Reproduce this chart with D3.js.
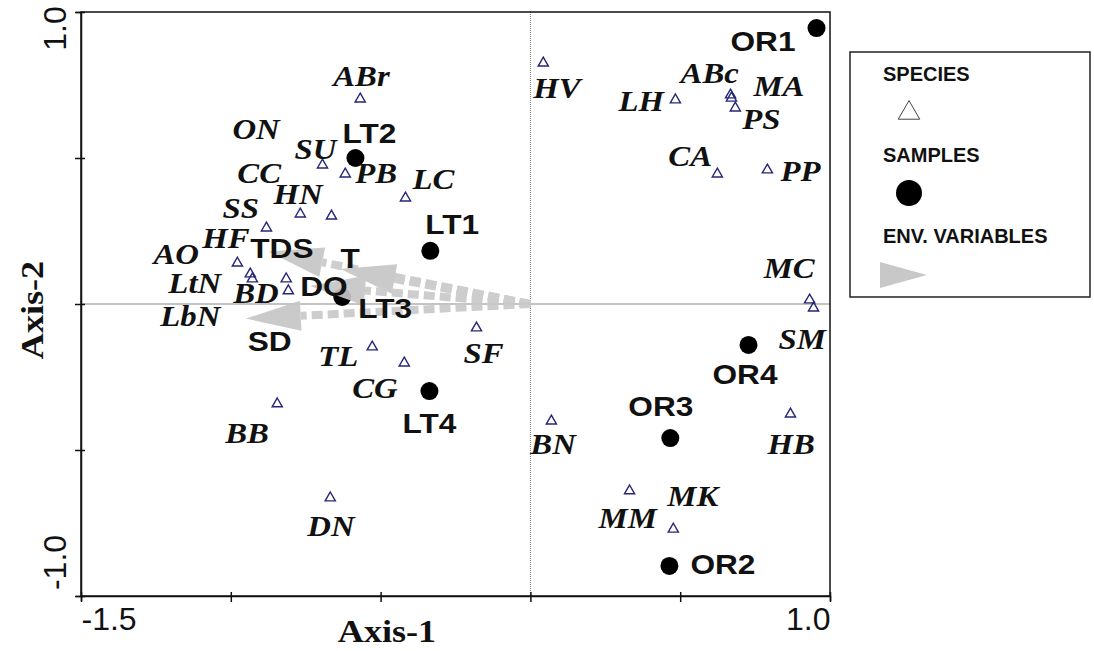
<!DOCTYPE html>
<html>
<head>
<meta charset="utf-8">
<script src="https://cdn.jsdelivr.net/npm/d3@7"></script>
<style>
  body { margin: 0; background: #fff; }
  .spLabel { font-family: "Liberation Serif", "Times New Roman", serif; font-style: italic; font-weight: bold; font-size: 29px; fill: #111; }
  .smLabel { font-family: "Liberation Sans", Arial, sans-serif; font-weight: bold; font-size: 28px; fill: #111; }
  .tickText { font-family: "Liberation Sans", Arial, sans-serif; font-size: 32px; fill: #111; }
  .axisTitle { font-family: "Liberation Serif", "Times New Roman", serif; font-weight: bold; font-size: 32px; fill: #111; }
  .legText { font-family: "Liberation Sans", Arial, sans-serif; font-weight: bold; font-size: 20px; fill: #111; }
</style>
</head>
<body>
<div class="chart"></div>
<script>
// Species scores
var speciesNames = ["ABr","ON","SU","PB","CC","HN","LC","SS","HF","AO","LtN","BD","LbN","TL","CG","SF","BB","DN",
                    "HV","LH","ABc","MA","PS","CA","PP","MC","SM","BN","HB","MM","MK"];
var speciesX = [-0.568,-0.584,-0.694,-0.618,-0.768,-0.664,-0.417,-0.881,-0.935,-0.978,-0.928,-0.815,-0.808,-0.528,-0.421,-0.180,-0.845,-0.668,
                0.043,0.484,0.668,0.671,0.684,0.624,0.791,0.932,0.945,0.070,0.868,0.331,0.477];
var speciesY = [0.702,0.497,0.476,0.445,0.308,0.301,0.363,0.260,0.103,0.140,0.086,0.086,0.045,-0.147,-0.202,-0.082,-0.342,-0.664,
                0.825,0.699,0.716,0.705,0.671,0.445,0.459,0.014,-0.014,-0.401,-0.377,-0.640,-0.771];

// Sample scores
var sampleNames = ["LT1","LT2","LT3","LT4","OR1","OR2","OR3","OR4"];
var sampleX = [-0.334,-0.584,-0.628,-0.337,0.955,0.464,0.467,0.728];
var sampleY = [0.182,0.500,0.024,-0.298,0.945,-0.897,-0.459,-0.140];

// Environmental variables (biplot arrows)
var envNames = ["TDS","T","DO","SD"];
var envX = [-0.875,-0.634,-0.735,-0.950];
var envY = [0.180,0.120,0.062,-0.050];

// Axis ticks
var xTicks = [-1.5,-1.0,-0.5,0,0.5,1.0];
var yTicks = [-1.0,-0.5,0,0.5,1.0];
var xTickLabels = {"-1.5": "-1.5", "1": "1.0"};
var yTickLabels = {"-1": "-1.0", "1": "1.0"};

// Label placement (pixel offsets from the mark)
var speciesLabelOffset = [[-27,-13],[-123,-20],[-28,-6],[10,9],[-63,-31],[-58,-12],[7,-9],[-44,-10],[-48,-26],[-84,1],[-84,14],[-53,24],[-128,35],[-54,19],[-52,35],[-13,35],[-52,39],[-23,38],
                          [-10,35],[-57,11],[-50,-12],[22,-2],[7,21],[-49,-8],[13,11],[-46,-22],[-35,41],[-21,33],[-23,40],[-31,37],[-6,-23]];
var sampleLabelOffset = [[-5,-17],[-13,-15],[16,21],[-27,42],[-86,23],[21,8],[-42,-22],[-36,39]];
var envLabelOffset = [[-18,7],[0,-1],[-10,10],[2,32]];
var textStretch = 1.13;

var svgWidth = 1094;
var svgHeight = 651;

var svg = d3.select(".chart")
  .append("svg")
  .attr("width", svgWidth)
  .attr("height", svgHeight);

// Scales
var xScale = d3.scaleLinear().domain([-1.5, 1.0]).range([81, 830]);
var yScale = d3.scaleLinear().domain([-1.0, 1.0]).range([596, 12]);

// Zero lines
svg.append("line")
  .attr("x1", xScale(-1.5)).attr("x2", xScale(1.0))
  .attr("y1", yScale(0)).attr("y2", yScale(0))
  .attr("stroke", "#8a8a8a").attr("stroke-width", 1.2);
svg.append("line")
  .attr("x1", xScale(0)).attr("x2", xScale(0))
  .attr("y1", yScale(1)).attr("y2", yScale(-1))
  .attr("stroke", "#777").attr("stroke-width", 1)
  .attr("stroke-dasharray", "1,1");

// Frame
svg.append("rect")
  .attr("x", xScale(-1.5)).attr("y", yScale(1))
  .attr("width", xScale(1.0) - xScale(-1.5))
  .attr("height", yScale(-1) - yScale(1))
  .attr("fill", "none").attr("stroke", "#111").attr("stroke-width", 1.5);

// Axes
var xAxis = d3.axisBottom(xScale).tickValues(xTicks).tickSize(5).tickFormat(d => xTickLabels[String(d)] || "");
var yAxis = d3.axisLeft(yScale).tickValues(yTicks).tickSize(5).tickFormat(d => yTickLabels[String(d)] || "");

var xg = svg.append("g").attr("transform", `translate(0, ${yScale(-1)})`).call(xAxis);
var yg = svg.append("g").attr("transform", `translate(${xScale(-1.5)}, 0)`).call(yAxis);

[xg, yg].forEach(g => {
  g.select(".domain").attr("stroke", "#111").attr("stroke-width", 1.5);
  g.selectAll(".tick line").attr("stroke", "#111").attr("stroke-width", 1.5);
  g.selectAll(".tick text").attr("class", "tickText").attr("font-size", null).attr("font-family", null);
});
xg.selectAll(".tick line").attr("y1", -4).attr("y2", 6);
yg.selectAll(".tick line").attr("x1", 4).attr("x2", -6);

xg.selectAll(".tick text")
  .attr("y", 34).attr("dy", null)
  .attr("text-anchor", d => d < 0 ? "start" : "end");

yg.selectAll(".tick text")
  .attr("x", null).attr("dy", null)
  .attr("text-anchor", "middle")
  .attr("transform", d => `translate(-15, ${d > 0 ? 16 : -34}) rotate(-90)`);

// Axis titles
svg.append("text")
  .attr("class", "axisTitle")
  .attr("text-anchor", "middle")
  .attr("transform", `translate(387, 642) scale(${textStretch},1)`)
  .text("Axis-1");

svg.append("text")
  .attr("class", "axisTitle")
  .attr("text-anchor", "middle")
  .attr("transform", `translate(43, 310) rotate(-90) scale(${textStretch},1)`)
  .text("Axis-2");

// Species triangles
var triangle = d3.symbol().type(d3.symbolTriangle).size(45);
svg.append("g").selectAll("path")
  .data(speciesNames)
  .enter()
  .append("path")
  .attr("d", triangle)
  .attr("transform", (d, i) => `translate(${xScale(speciesX[i])}, ${yScale(speciesY[i])})`)
  .attr("fill", "none")
  .attr("stroke", "#26267a")
  .attr("stroke-width", 1.4);

// Sample points
svg.append("g").selectAll("circle")
  .data(sampleNames)
  .enter()
  .append("circle")
  .attr("cx", (d, i) => xScale(sampleX[i]))
  .attr("cy", (d, i) => yScale(sampleY[i]))
  .attr("r", 9)
  .attr("fill", "#000");

// Environmental arrows
var headLen = 55, headHalf = 15;
var arrowG = svg.append("g").attr("opacity", 0.92);
envNames.forEach((name, i) => {
  var x0 = xScale(0), y0 = yScale(0);
  var x1 = xScale(envX[i]), y1 = yScale(envY[i]);
  var len = Math.hypot(x1 - x0, y1 - y0);
  var ux = (x1 - x0) / len, uy = (y1 - y0) / len;
  var bx = x1 - ux * headLen, by = y1 - uy * headLen;
  arrowG.append("line")
    .attr("x1", x0).attr("y1", y0).attr("x2", bx).attr("y2", by)
    .attr("stroke", "#c9c9c9").attr("stroke-width", 8)
    .attr("stroke-dasharray", "11,5");
  arrowG.append("polygon")
    .attr("points", [[x1, y1], [bx - uy * headHalf, by + ux * headHalf], [bx + uy * headHalf, by - ux * headHalf]].join(" "))
    .attr("fill", "#c6c6c6");
});

// Labels
svg.append("g").selectAll("text")
  .data(speciesNames)
  .enter()
  .append("text")
  .attr("class", "spLabel")
  .attr("transform", (d, i) => `translate(${xScale(speciesX[i]) + speciesLabelOffset[i][0]}, ${yScale(speciesY[i]) + speciesLabelOffset[i][1]}) scale(${textStretch},1)`)
  .text(d => d);

svg.append("g").selectAll("text")
  .data(sampleNames)
  .enter()
  .append("text")
  .attr("class", "smLabel")
  .attr("transform", (d, i) => `translate(${xScale(sampleX[i]) + sampleLabelOffset[i][0]}, ${yScale(sampleY[i]) + sampleLabelOffset[i][1]}) scale(${textStretch},1)`)
  .text(d => d);

svg.append("g").selectAll("text")
  .data(envNames)
  .enter()
  .append("text")
  .attr("class", "smLabel")
  .attr("transform", (d, i) => `translate(${xScale(envX[i]) + envLabelOffset[i][0]}, ${yScale(envY[i]) + envLabelOffset[i][1]}) scale(${textStretch},1)`)
  .text(d => d);

// Legend
var legend = svg.append("g");
legend.append("rect")
  .attr("x", 850).attr("y", 52).attr("width", 240).attr("height", 245)
  .attr("fill", "#fff").attr("stroke", "#222").attr("stroke-width", 1.5);
legend.append("text").attr("class", "legText").attr("x", 883).attr("y", 81).text("SPECIES");
legend.append("path")
  .attr("d", d3.symbol().type(d3.symbolTriangle).size(200)())
  .attr("transform", "translate(909, 113)")
  .attr("fill", "none").attr("stroke", "#444").attr("stroke-width", 1);
legend.append("text").attr("class", "legText").attr("x", 883).attr("y", 162).text("SAMPLES");
legend.append("circle").attr("cx", 909).attr("cy", 193).attr("r", 13).attr("fill", "#000");
legend.append("text").attr("class", "legText").attr("x", 883).attr("y", 243).text("ENV. VARIABLES");
legend.append("polygon")
  .attr("points", "880,262 927,275 880,288")
  .attr("fill", "#c8c8c8");
</script>
</body>
</html>
